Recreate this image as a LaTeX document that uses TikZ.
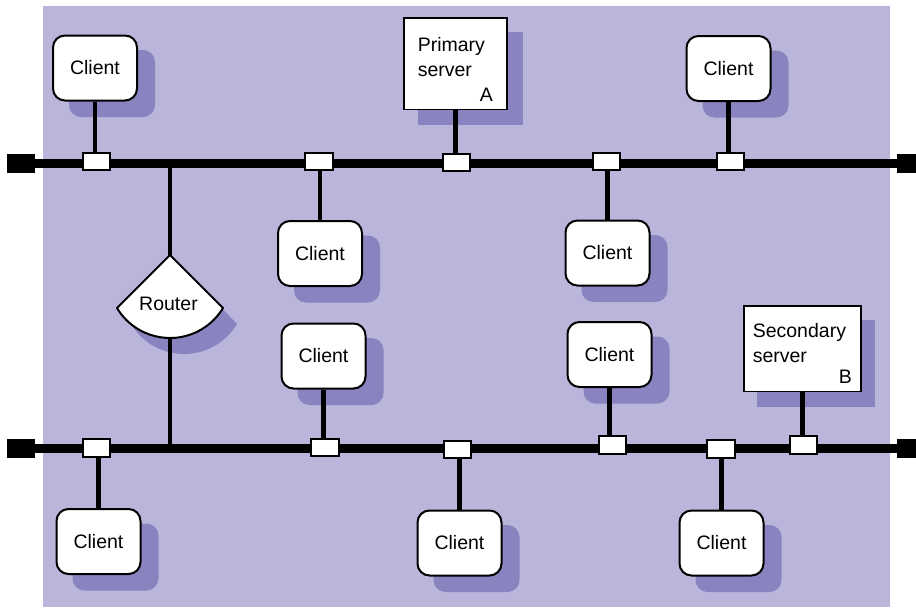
\documentclass[tikz,border=0pt]{standalone}
\usepackage{fontspec}
\setmainfont{Liberation Sans}
\definecolor{bgc}{RGB}{186,182,219}
\definecolor{shc}{RGB}{137,131,191}
\pgfdeclarelayer{back}
\pgfdeclarelayer{wires}
\pgfsetlayers{back,wires,main}
\tikzset{
  client/.style={draw, line width=2pt, fill=white, rounded corners=12pt,
    minimum width=84pt, minimum height=65pt, inner sep=0pt,
    font=\fontsize{19.5}{23}\selectfont},
  server/.style={draw, line width=1.6pt, fill=white, anchor=north west,
    inner ysep=0pt, align=left, font=\fontsize{19.5}{25}\selectfont},
  tap/.style={draw, line width=1.6pt, fill=white, minimum width=27.5pt,
    minimum height=17.5pt, inner sep=0pt},
  endcap/.style={fill=black, minimum width=28pt, minimum height=19pt, inner sep=0pt},
  bus/.style={line width=9pt},
  stem/.style={line width=4.7pt},
  routershape/.style={draw, line width=2pt, fill=white, line join=round},
  routertext/.style={font=\fontsize{19.5}{23}\selectfont, inner sep=0pt},
  shadowfill/.style={fill=shc},
}
\begin{document}
\begin{tikzpicture}[x=1pt,y=1pt]
\useasboundingbox (0,0) rectangle (916,-608);
\begin{pgfonlayer}{back}
  \fill[bgc] (43,-6) rectangle (890,-607);
\end{pgfonlayer}

% bus end caps
\node[endcap] (eTL) at (21,-163) {};
\node[endcap] (eTR) at (911,-163) {};
\node[endcap] (eBL) at (21,-448) {};
\node[endcap] (eBR) at (911,-448) {};

% taps on the top bus
\node[tap] (t1) at (96.5,-161.5) {};
\node[tap] (t2) at (319,-161.5) {};
\node[tap] (t3) at (456.5,-162.5) {};
\node[tap] (t4) at (606.5,-161.5) {};
\node[tap] (t5) at (730.5,-161.5) {};
% taps on the bottom bus
\node[tap] (b1) at (96.5,-448) {};
\node[tap] (b2) at (325,-447.5) {};
\node[tap] (b3) at (457.5,-449.5) {};
\node[tap] (b4) at (612.5,-445) {};
\node[tap] (b5) at (721,-449) {};
\node[tap] (b6) at (803.5,-445) {};

% clients
\node[client] (c1) at (95,-68) {Client\hspace{5pt}};
\node[client] (c2) at (728.5,-68.5) {Client\hspace{5pt}};
\node[client] (c3) at (320,-253.5) {Client\hspace{5pt}};
\node[client] (c4) at (607.5,-253) {Client\hspace{5pt}};
\node[client] (c5) at (323.5,-356) {Client\hspace{5pt}};
\node[client] (c6) at (609.5,-354.5) {Client\hspace{5pt}};
\node[client] (c7) at (98.5,-541.5) {Client\hspace{5pt}};
\node[client] (c8) at (459.5,-543) {Client\hspace{5pt}};
\node[client] (c9) at (721.5,-543) {Client\hspace{5pt}};

% servers
\node[server, text width=75pt, inner xsep=14pt, minimum height=91.5pt] (pri) at (403,-17)
  {\rule{0pt}{25pt}Primary\\server\\\hspace*{\fill}A};
\node[server, text width=99pt, inner xsep=9pt, minimum height=85.5pt] (sec) at (743,-305)
  {\rule{0pt}{23pt}Secondary\\server\\[-4pt]\hspace*{\fill}B};

% router
\coordinate (rtop) at (170,-255);
\coordinate (rbot) at (170,-338);
\coordinate (rj1) at (170,-163);
\coordinate (rj2) at (170,-448);
\path[routershape] (rtop) -- (117,-308) arc[start angle=210.98, end angle=329.02, radius=61.82] -- cycle;
\node[routertext] (router) at (168.5,-304) {Router};

% shadows
\begin{pgfonlayer}{back}
  \foreach \c in {c1,c2,c3,c4,c5,c6,c7,c8,c9}
    \fill[shadowfill, rounded corners=12pt] ([shift={(17,-15.5)}]\c.south west) rectangle ([shift={(17,-15.5)}]\c.north east);
  \fill[shadowfill] ([shift={(15,-15)}]pri.south west) rectangle ([shift={(15,-15)}]pri.north east);
  \fill[shadowfill] ([shift={(13.5,-14.5)}]sec.south west) rectangle ([shift={(13.5,-14.5)}]sec.north east);
  \fill[shadowfill, shift={(14,-16)}] (rtop) -- (117,-308) arc[start angle=210.98, end angle=329.02, radius=61.82] -- cycle;
\end{pgfonlayer}

% wires
\begin{pgfonlayer}{wires}
  \draw[bus] (eTL) -- (eTR);
  \draw[bus] (eBL) -- (eBR);
  \draw[stem] (c1.south) -- (c1.south |- t1.center);
  \draw[stem] (pri.south) -- (pri.south |- t3.center);
  \draw[stem] (c2.south) -- (c2.south |- t5.center);
  \draw[stem] (c3.north) -- (c3.north |- t2.center);
  \draw[stem] (c4.north) -- (c4.north |- t4.center);
  \draw[stem] (c5.south) -- (c5.south |- b2.center);
  \draw[stem] (c6.south) -- (c6.south |- b4.center);
  \draw[stem] (sec.south) -- (sec.south |- b6.center);
  \draw[stem] (c7.north) -- (c7.north |- b1.center);
  \draw[stem] (c8.north) -- (c8.north |- b3.center);
  \draw[stem] (c9.north) -- (c9.north |- b5.center);
  \draw[stem] (rj1) -- (rtop);
  \draw[stem] (rbot) -- (rj2);
\end{pgfonlayer}
\end{tikzpicture}
\end{document}
